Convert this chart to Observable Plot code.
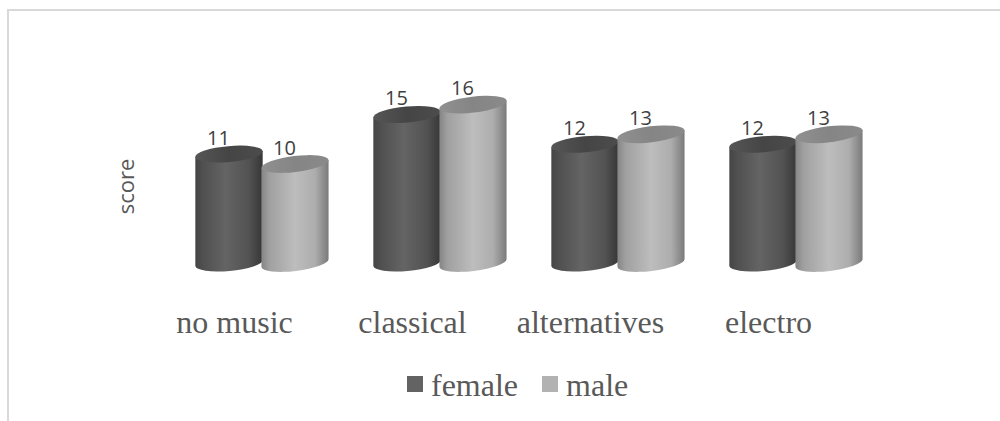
<!DOCTYPE html>
<html>
<head>
<meta charset="utf-8">
<script src="https://cdn.jsdelivr.net/npm/d3@7"></script>
<script src="https://cdn.jsdelivr.net/npm/@observablehq/plot@0.6"></script>
<style>
  html, body { margin: 0; padding: 0; background: #fff; overflow: hidden; }
  #frame { position: absolute; left: 7px; top: 9px; right: -4px; bottom: -4px;
           border-top: 2px solid #d9d9d9; border-left: 2px solid #d9d9d9; }
  #chart { position: absolute; left: 0; top: 0; }
  #legend { position: absolute; left: 407px; top: 364px; height: 42px; display: flex; align-items: center;
            font: 32px "Liberation Serif", serif; color: #595959; }
  #legend i { display: inline-block; width: 16px; height: 16px; margin-right: 8px; position: relative; top: -1px; }
  #legend span { margin-right: 24px; }
</style>
</head>
<body>
<div id="frame"></div>
<div id="chart"></div>
<div id="legend"></div>
<script>
// Mean score per listening condition, split by gender
const categories = ["no music", "classical", "alternatives", "electro"];
const genders = ["female", "male"];
const femaleScores = [11, 15, 12, 12];
const maleScores = [10, 16, 13, 13];

const rows = categories.flatMap((category, i) => [
  {category, gender: "female", score: femaleScores[i]},
  {category, gender: "male", score: maleScores[i]}
]);

const swatch = {female: "#636363", male: "#b2b2b2"};
const tilt = {female: -5, male: -6.8}; // ellipse rotation, degrees
const ry = 8;

// Horizontal shading that gives the cylinders their round look
const gradientDefs = () => {
  const svg = d3.create("svg:g");
  const defs = svg.append("defs");
  const addGradient = (id, stops) => {
    const g = defs.append("linearGradient").attr("id", id);
    stops.forEach(([o, c]) => g.append("stop").attr("offset", o).attr("stop-color", c));
  };
  addGradient("body-female", [[0, "#454545"], [0.12, "#505050"], [0.45, "#646464"], [0.8, "#525252"], [1, "#363636"]]);
  addGradient("body-male", [[0, "#858585"], [0.12, "#a0a0a0"], [0.5, "#bdbdbd"], [0.8, "#adadad"], [1, "#7a7a7a"]]);
  addGradient("top-female", [[0, "#565656"], [0.5, "#454545"], [1, "#4c4c4c"]]);
  addGradient("top-male", [[0, "#909090"], [0.5, "#858585"], [1, "#8a8a8a"]]);
  return svg.node();
};

// Bars are redrawn as tilted cylinders from their scaled positions
function renderCylinders(index, scales, values) {
  const g = d3.create("svg:g");
  const w = scales.x.bandwidth();
  for (const i of index) {
    const gender = rows[i].gender;
    const rx = w / 2 + 0.8;
    const a = tilt[gender] * Math.PI / 180;
    const cx = values.x[i] + w / 2;
    const yTop = values.y2[i], yBase = values.y1[i];
    const ox = rx * Math.cos(a), oy = rx * Math.sin(a);
    const arc = `A${rx} ${ry} ${tilt[gender]} 0 0`;
    g.append("path")
      .attr("d", `M${cx - ox} ${yTop - oy}L${cx - ox} ${yBase - oy}${arc} ${cx + ox} ${yBase + oy}L${cx + ox} ${yTop + oy}Z`)
      .attr("fill", `url(#body-${gender})`);
    g.append("ellipse")
      .attr("rx", rx).attr("ry", ry)
      .attr("transform", `translate(${cx},${yTop}) rotate(${tilt[gender]})`)
      .attr("fill", `url(#top-${gender})`);
  }
  return g.node();
}

const height = 345;
const chart = Plot.plot({
  width: 1000,
  height,
  marginLeft: 195,
  marginRight: 136,
  marginTop: 65,
  marginBottom: height - 263,
  style: {background: "transparent", overflow: "visible"},
  fx: {domain: categories, padding: 0.256, axis: null, label: null},
  x: {domain: genders, padding: 0, axis: null},
  y: {domain: [0, 20], axis: null},
  marks: [
    gradientDefs,
    Plot.barY(rows, {fx: "category", x: "gender", y: "score", sort: null, render: renderCylinders}),
    Plot.text(rows, {
      fx: "category", x: "gender", y: "score", text: "score",
      dx: -11, dy: -10, lineAnchor: "bottom",
      fontFamily: "'Open Sans', sans-serif", fontSize: 20, fill: "#404040"
    }),
    // Category captions sit left of their cylinder pairs
    Plot.text(categories, {
      fx: (d) => d, text: (d) => d, frameAnchor: "bottom", lineAnchor: "bottom",
      dx: -28, dy: 69,
      fontFamily: "'Liberation Serif', serif", fontSize: 32, fill: "#595959"
    }),
    Plot.text(["score"], {
      facetAnchor: "left", frameAnchor: "left", textAnchor: "middle", rotate: -90,
      dx: -70, dy: 22,
      fontFamily: "'Open Sans', sans-serif", fontSize: 22, fill: "#595959"
    })
  ]
});
document.getElementById("chart").append(chart);

// Legend below the plot
const legend = d3.select("#legend");
genders.forEach((g) => {
  legend.append("i").style("background", swatch[g]);
  legend.append("span").text(g);
});
</script>
</body>
</html>
